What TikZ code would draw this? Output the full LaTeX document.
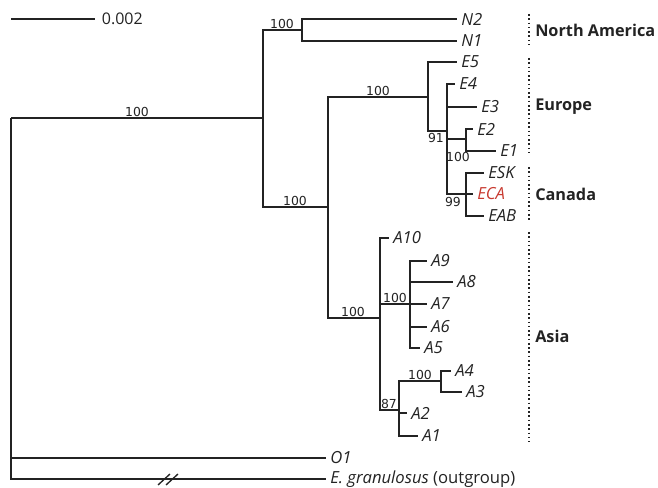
\documentclass[tikz,border=0pt]{standalone}
\usepackage{fontspec}
\setmainfont{Open Sans}
\newfontfamily\bootfont{DejaVu Sans}
\definecolor{ecared}{RGB}{200,58,48}
\definecolor{inkgray}{RGB}{35,35,35}

\begin{document}
\begin{tikzpicture}[x=0.75pt, y=-0.75pt,
    taxon/.style={anchor=west, inner xsep=3pt, inner ysep=0pt, text=inkgray, font=\fontsize{12.5}{13}\selectfont\itshape},
    boot/.style={inner sep=1pt, text=inkgray, font=\bootfont\fontsize{9.3}{10}\selectfont},
    region/.style={anchor=west, inner sep=0pt, text=inkgray, font=\fontsize{12.2}{13}\selectfont\bfseries},
    branch/.style={draw=inkgray, line width=1pt},
    sep/.style={draw=inkgray, dotted, line width=1.2pt}
]
\useasboundingbox (0,0) rectangle (658,488);

% scale bar
\coordinate (sb0) at (11,19);
\node[taxon, inner xsep=5pt, font=\fontsize{12}{13}\selectfont] (sb1) at (95,19) {0.002};
\draw[branch] (sb0) -- (sb1.west);

% internal nodes
\coordinate (root) at (11,118);
\coordinate (ingrp) at (263,118);
\coordinate (na) at (302,30);
\coordinate (eurasia) at (328,207);
\coordinate (eucan) at (428,97);
\coordinate (n91) at (447,131);
\coordinate (e12) at (466,139);
\coordinate (can) at (466,194);
\coordinate (asia) at (380,318);
\coordinate (a59) at (410,304);
\coordinate (a14) at (399,410);
\coordinate (a34) at (441,381);

% taxa
\node[taxon] (N2) at (457,19) {N2};
\node[taxon] (N1) at (457,41) {N1};
\node[taxon] (E5) at (457,62) {E5};
\node[taxon] (E4) at (455,84) {E4};
\node[taxon] (E3) at (477,107) {E3};
\node[taxon] (E2) at (473,129) {E2};
\node[taxon] (E1) at (496,151) {E1};
\node[taxon] (ESK) at (484,173) {ESK};
\node[taxon, text=ecared] (ECA) at (473,194) {ECA};
\node[taxon] (EAB) at (484,216) {EAB};
\node[taxon] (A10) at (389,238) {A10};
\node[taxon] (A9) at (427,261) {A9};
\node[taxon] (A8) at (453,282) {A8};
\node[taxon] (A7) at (427,304) {A7};
\node[taxon] (A6) at (427,327) {A6};
\node[taxon] (A5) at (420,348) {A5};
\node[taxon] (A4) at (451,371) {A4};
\node[taxon] (A3) at (462,392) {A3};
\node[taxon] (A2) at (407,413) {A2};
\node[taxon] (A1) at (418,436) {A1};
\node[taxon] (O1) at (326,458) {O1};
\node[taxon, font=\fontsize{12.5}{13}\selectfont] (Eg) at (326,479) {\textit{E. granulosus} (outgroup)};

% branches
\draw[branch] (root) -- (ingrp);
\draw[branch] (root) |- (O1.west);
\draw[branch] (root) |- (Eg.west);
\draw[branch] (ingrp) |- (na);
\draw[branch] (ingrp) |- (eurasia);
\draw[branch] (na) |- (N2.west);
\draw[branch] (na) |- (N1.west);
\draw[branch] (eurasia) |- (eucan);
\draw[branch] (eurasia) |- (asia);
\draw[branch] (eucan) |- (E5.west);
\draw[branch] (eucan) |- (n91);
\draw[branch] (n91) |- (E4.west);
\draw[branch] (n91) |- (E3.west);
\draw[branch] (n91) |- (e12);
\draw[branch] (n91) |- (can);
\draw[branch] (e12) |- (E2.west);
\draw[branch] (e12) |- (E1.west);
\draw[branch] (can) |- (ESK.west);
\draw[branch] (can) |- (ECA.west);
\draw[branch] (can) |- (EAB.west);
\draw[branch] (asia) |- (A10.west);
\draw[branch] (asia) |- (a59);
\draw[branch] (asia) |- (a14);
\draw[branch] (a59) |- (A9.west);
\draw[branch] (a59) |- (A8.west);
\draw[branch] (a59) |- (A7.west);
\draw[branch] (a59) |- (A6.west);
\draw[branch] (a59) |- (A5.west);
\draw[branch] (a14) |- (a34);
\draw[branch] (a14) |- (A2.west);
\draw[branch] (a14) |- (A1.west);
\draw[branch] (a34) |- (A4.west);
\draw[branch] (a34) |- (A3.west);

% break on the outgroup branch
\draw[branch] (158,485) -- (170,474);
\draw[branch] (166,485) -- (178,474);

% bootstrap values
\node[boot, anchor=south] (bsroot) at (137,118) {100};
\node[boot, anchor=south] (bsna) at (282,30) {100};
\node[boot, anchor=south] (bseura) at (295,207) {100};
\node[boot, anchor=south] (bseucan) at (378,97) {100};
\node[boot, anchor=north] (bs91) at (436,132) {91};
\node[boot, anchor=north] (bse12) at (458,151) {100};
\node[boot, anchor=north] (bscan) at (453,196) {99};
\node[boot, anchor=south] (bsasia) at (353,318) {100};
\node[boot, anchor=south] (bsa59) at (395,304) {100};
\node[boot, anchor=south] (bsa34) at (420,381) {100};
\node[boot, anchor=south] (bsa14) at (389,410) {87};

% regions
\draw[sep] (529,14) -- (529,46);
\draw[sep] (529,58) -- (529,155);
\draw[sep] (529,167) -- (529,220);
\draw[sep] (529,232) -- (529,442);
\node[region] (namer) at (535,30) {North America};
\node[region] (europe) at (535,107) {Europe};
\node[region] (canada) at (535,194) {Canada};
\node[region] (asiareg) at (535,336) {Asia};
\end{tikzpicture}
\end{document}
